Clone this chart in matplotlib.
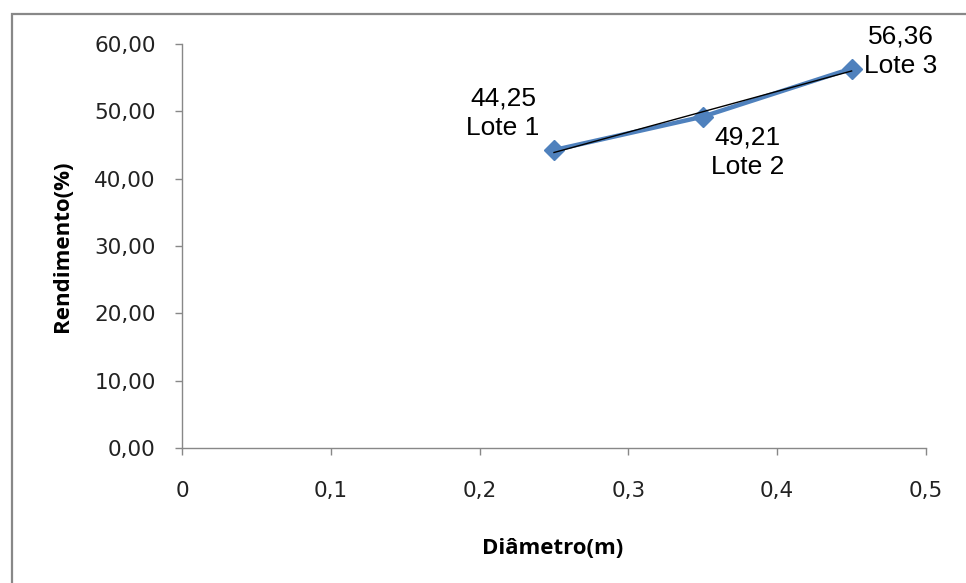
import numpy as np
import matplotlib
matplotlib.use('Agg')
import matplotlib.pyplot as plt
from matplotlib.patches import Rectangle

diametro = [0.25, 0.35, 0.45]
rendimento = [44.25, 49.21, 56.36]
lotes = ['Lote 1', 'Lote 2', 'Lote 3']
x_ticks = [0, 0.1, 0.2, 0.3, 0.4, 0.5]
x_tick_labels = ['0', '0,1', '0,2', '0,3', '0,4', '0,5']
y_ticks = [0, 10, 20, 30, 40, 50, 60]
y_tick_labels = ['0,00', '10,00', '20,00', '30,00', '40,00', '50,00', '60,00']

BLUE = '#4F81BD'
GRAY = '#888888'

fig = plt.figure(figsize=(9.66, 5.83), dpi=100)
fig.patch.set_facecolor('white')
# moldura do gráfico (estilo Excel)
fig.patches.append(Rectangle((11.5 / 966, -0.1), 1.2, 1 - 14.5 / 583 + 0.1,
                             transform=fig.transFigure, fill=False,
                             edgecolor=GRAY, lw=1.6))

ax = fig.add_axes([182 / 966, 1 - 448 / 583, (926 - 182) / 966, (448 - 44) / 583])
ax.plot(diametro, rendimento, color=BLUE, lw=3.2, marker='D', markersize=10.5,
        markerfacecolor=BLUE, markeredgecolor=BLUE, zorder=3)

# linha de tendência linear
a, b = np.polyfit(diametro, rendimento, 1)
xt = np.array([diametro[0], diametro[-1]])
ax.plot(xt, a * xt + b, color='black', lw=1.0, zorder=4)

offsets = [(-51, 10, 'bottom'), (45, -9, 'top'), (49, 17, 'center')]
for xv, yv, lt, (dx, dy, va) in zip(diametro, rendimento, lotes, offsets):
    ax.annotate(f'{yv:.2f}'.replace('.', ',') + '\n' + lt, (xv, yv),
                xytext=(dx, dy), textcoords='offset pixels',
                ha='center', va=va, fontsize=19, family='Liberation Sans',
                linespacing=1.27)

ax.set_xlim(0, 0.5)
ax.set_ylim(0, 60)
ax.set_xticks(x_ticks)
ax.set_xticklabels(x_tick_labels)
ax.set_yticks(y_ticks)
ax.set_yticklabels(y_tick_labels)
ax.tick_params(direction='out', length=5, width=1, color=GRAY, labelsize=15.5,
               labelcolor='#222222')
ax.tick_params(axis='x', pad=19)
ax.tick_params(axis='y', pad=14)
for s in ['top', 'right']:
    ax.spines[s].set_visible(False)
for s in ['left', 'bottom']:
    ax.spines[s].set_color(GRAY)
    ax.spines[s].set_linewidth(1.0)

fig.text(553 / 966, 1 - 548 / 583, 'Diâmetro(m)', ha='center', va='center',
         fontsize=16, fontweight='bold', family='Open Sans')
fig.text(62 / 966, 1 - 246 / 583, 'Rendimento(%)', ha='center', va='center',
         rotation=90, fontsize=16, fontweight='bold', family='Open Sans')

fig.savefig('out.png', dpi=100)
